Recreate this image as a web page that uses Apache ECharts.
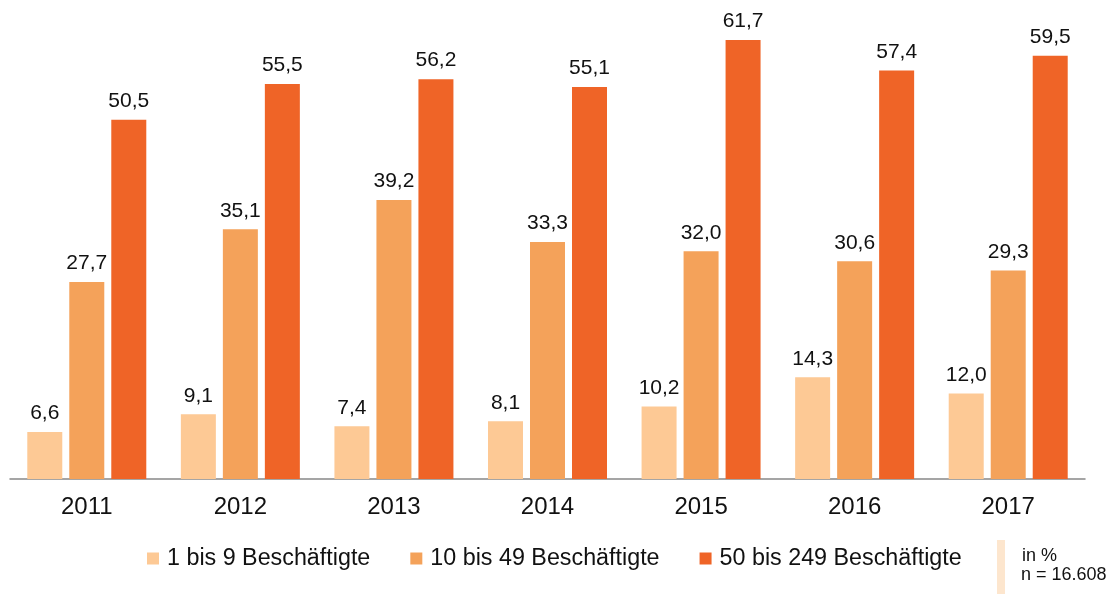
<!DOCTYPE html>
<html>
<head>
<meta charset="utf-8">
<script src="https://cdn.jsdelivr.net/npm/echarts@6/dist/echarts.min.js"></script>
<style>
  html, body { margin: 0; padding: 0; background: #fff; }
  #chart { width: 1112px; height: 594px; }
</style>
</head>
<body>
<div id="chart"></div>
<script>
var years = ['2011', '2012', '2013', '2014', '2015', '2016', '2017']
var klein = [6.6, 9.1, 7.4, 8.1, 10.2, 14.3, 12.0]
var mittel = [27.7, 35.1, 39.2, 33.3, 32.0, 30.6, 29.3]
var gross = [50.5, 55.5, 56.2, 55.1, 61.7, 57.4, 59.5]
var names = ['1 bis 9 Beschäftigte', '10 bis 49 Beschäftigte', '50 bis 249 Beschäftigte']
var colors = ['#FDC995', '#F4A25A', '#EF6427']

var font = 'Liberation Sans, Arial, sans-serif'
var chart = echarts.init(document.getElementById('chart'))

function bar(name, data, color) {
    return {
        name: name,
        type: 'bar',
        data: data,
        barWidth: 35,
        barGap: '20%',
        itemStyle: { color: color },
        label: {
            show: true,
            position: 'top',
            distance: 8,
            color: '#111',
            fontSize: 21,
            fontFamily: font,
            formatter: function (p) { return p.value.toFixed(1).replace('.', ',') }
        }
    }
}

chart.setOption({
    animation: false,
    color: colors,
    grid: { left: 10, right: 27, top: 40, bottom: 115 },
    legend: {
        data: names,
        left: 142,
        top: 542,
        itemWidth: 12,
        itemHeight: 12,
        itemGap: 40,
        icon: 'rect',
        textStyle: { fontSize: 23.3, color: '#111', fontFamily: font, padding: [0, 0, 0, 3] }
    },
    xAxis: {
        type: 'category',
        data: years,
        axisLine: { lineStyle: { color: '#888', width: 1.5 } },
        axisTick: { show: false },
        axisLabel: { fontSize: 24, color: '#111', fontFamily: font, margin: 16 }
    },
    yAxis: {
        type: 'value',
        min: 0,
        max: 61.7,
        show: false,
        splitLine: { show: false }
    },
    graphic: [
        { type: 'rect', shape: { x: 997, y: 540, width: 8, height: 54 }, style: { fill: '#FDE6CE' } },
        { type: 'text', left: 1022, top: 547, style: { text: 'in %', fontSize: 18, fill: '#111', fontFamily: font } },
        { type: 'text', left: 1021, top: 566, style: { text: 'n = 16.608', fontSize: 18, fill: '#111', fontFamily: font } }
    ],
    series: [
        bar(names[0], klein, colors[0]),
        bar(names[1], mittel, colors[1]),
        bar(names[2], gross, colors[2])
    ]
})
</script>
</body>
</html>
